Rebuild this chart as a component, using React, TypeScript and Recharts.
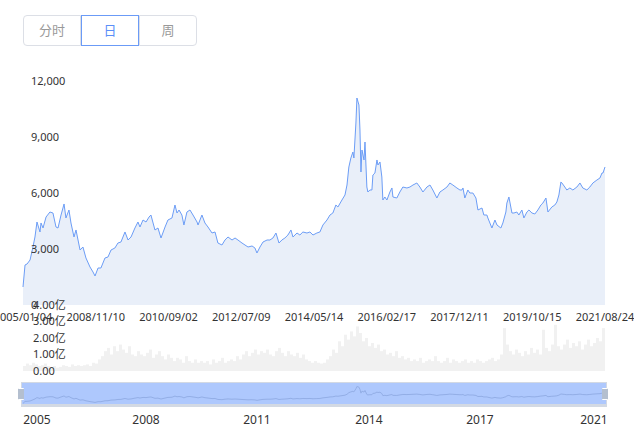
import React from "react";
import { Area, AreaChart, Bar, BarChart, Line, LineChart, XAxis, YAxis } from "recharts";

// trading-day index (0 = 2005/01/04, 4040 = 2021/08/24) and close
const closeSeries: [number, number][] = [
  [0, 964], [14, 2143], [28, 2196], [49, 2411], [69, 3107], [83, 3643], [97, 4446], [118, 3911],
  [125, 4393], [139, 4125], [160, 4714], [187, 4982], [208, 4928], [229, 4178], [243, 4125], [264, 4821],
  [285, 5411], [298, 4661], [319, 5089], [333, 4393], [354, 3643], [368, 4018], [396, 2946], [416, 3107],
  [437, 2518], [465, 2036], [486, 1768], [500, 1554], [521, 1982], [541, 1982], [569, 2518], [590, 2571],
  [611, 2946], [638, 3054], [659, 3321], [680, 3375], [708, 3911], [729, 3482], [750, 3643], [777, 4125],
  [798, 4446], [812, 4178], [833, 4553], [854, 4446], [875, 4714], [888, 4821], [916, 4018], [937, 4125],
  [958, 3589], [986, 4178], [1006, 4553], [1034, 4661], [1055, 5357], [1069, 4928], [1083, 5089], [1103, 4821],
  [1117, 4286], [1138, 4982], [1159, 5089], [1180, 4821], [1208, 4446], [1215, 4286], [1242, 4821], [1263, 4393],
  [1284, 4178], [1312, 3857], [1333, 3911], [1353, 3321], [1381, 3214], [1402, 3482], [1423, 3643], [1451, 3482],
  [1472, 3589], [1492, 3482], [1520, 3321], [1541, 3214], [1562, 3107], [1590, 3161], [1610, 3054], [1624, 2786],
  [1645, 3107], [1666, 3375], [1694, 3482], [1714, 3482], [1735, 3589], [1756, 3857], [1777, 3321], [1797, 3482],
  [1818, 3589], [1839, 3750], [1860, 4018], [1874, 3643], [1902, 3857], [1922, 3750], [1943, 3911], [1971, 3857],
  [1992, 3911], [2013, 3750], [2040, 3857], [2061, 3911], [2082, 4286], [2110, 4553], [2131, 4821], [2151, 4928],
  [2172, 5357], [2186, 5250], [2214, 5625], [2235, 5893], [2249, 6428], [2262, 7393], [2276, 7875], [2290, 8196],
  [2297, 7875], [2311, 9750], [2318, 11089], [2332, 10714], [2339, 9375], [2346, 7125], [2353, 8303], [2367, 7768],
  [2374, 8732], [2387, 6321], [2394, 6053], [2408, 6161], [2422, 6161], [2429, 6964], [2443, 7071], [2457, 7768],
  [2464, 7500], [2478, 7661], [2491, 6857], [2498, 5625], [2512, 5786], [2526, 5625], [2547, 6053], [2561, 6268],
  [2568, 5786], [2595, 5732], [2616, 6053], [2637, 6321], [2665, 6268], [2686, 6321], [2707, 6428], [2734, 6536],
  [2755, 6321], [2776, 6053], [2804, 6321], [2825, 6428], [2845, 6161], [2873, 5732], [2894, 6053], [2915, 6161],
  [2943, 6321], [2963, 6536], [2984, 6428], [3012, 6268], [3033, 6161], [3047, 6161], [3054, 6268], [3067, 5732],
  [3088, 6161], [3102, 6000], [3123, 6000], [3144, 5732], [3158, 5089], [3186, 5196], [3199, 4821], [3220, 4821],
  [3227, 4661], [3255, 4125], [3276, 4553], [3290, 4286], [3317, 4125], [3331, 4393], [3352, 4982], [3359, 5464],
  [3373, 5786], [3394, 4928], [3408, 4928], [3428, 4982], [3442, 4821], [3463, 5089], [3477, 4661], [3498, 4982],
  [3512, 5089], [3533, 4928], [3553, 4875], [3574, 5089], [3595, 5357], [3609, 5464], [3630, 5732], [3644, 4982],
  [3671, 5250], [3692, 5357], [3706, 5518], [3720, 5893], [3734, 6589], [3741, 6536], [3761, 6321], [3775, 6161],
  [3796, 6268], [3817, 6161], [3845, 6321], [3866, 6536], [3886, 6268], [3914, 6161], [3935, 6321], [3956, 6536],
  [3984, 6696], [4005, 6804], [4019, 7071], [4026, 7071], [4040, 7393],
];

// volume, in 亿
const volumes = [
  0.3, 0.45, 0.35, 0.5, 0.4, 0.3, 0.35, 0.45, 0.3, 0.25,
  0.3, 0.2, 0.25, 0.35, 0.3, 0.25, 0.4, 0.3, 0.35, 0.3,
  0.35, 0.4, 0.3, 0.5, 0.45, 0.7, 0.9, 1.2, 1.4, 1.0,
  1.5, 1.2, 1.6, 1.3, 1.1, 1.5, 1.0, 0.9, 1.2, 1.0,
  0.9, 1.1, 1.3, 0.8, 1.0, 1.2, 0.9, 0.7, 1.0, 0.8,
  0.6, 0.8, 0.7, 0.5, 0.9, 0.6, 0.5, 0.7, 0.5, 0.6,
  0.5, 0.6, 0.4, 0.7, 0.5, 0.6, 0.8, 0.5, 0.6, 0.7,
  0.6, 0.9, 0.7, 1.0, 1.2, 0.9, 1.1, 1.3, 1.0, 1.2,
  1.1, 1.3, 1.0, 0.9, 1.2, 1.4, 1.1, 0.9, 1.2, 1.0,
  0.9, 1.1, 0.8, 1.0, 0.7, 0.6, 0.5, 0.6, 0.5, 0.45,
  0.5, 0.7, 0.9, 1.3, 1.1, 1.8, 1.5, 2.2, 1.9, 2.4,
  2.1, 2.7, 2.3, 1.8, 2.0, 1.5, 1.7, 1.4, 1.6, 1.2,
  1.3, 1.0, 1.1, 0.9, 1.2, 0.8, 0.9, 0.7, 0.8, 0.6,
  0.7, 0.6, 0.8, 0.5, 0.6, 0.7, 0.6, 0.9, 0.6, 0.5,
  0.6, 0.8, 0.5, 0.7, 0.6, 0.5, 0.6, 0.7, 0.5, 0.6,
  0.5, 0.7, 0.6, 0.5, 0.6, 0.7, 0.8, 0.6, 0.7, 1.0,
  2.6, 1.6, 1.2, 1.0, 1.3, 1.1, 0.9, 1.2, 1.0, 1.4,
  1.1, 1.3, 1.0, 2.5, 1.4, 1.2, 1.6, 2.8, 1.5, 1.3,
  1.6, 1.9, 1.4, 1.7, 1.5, 1.8, 1.3, 1.6, 1.9, 1.5,
  1.7, 2.0, 1.8, 2.6,
];

const dateTickDays = [0, 505, 1010, 1515, 2020, 2525, 3030, 3535, 4040];
const dateTickLabels = [
  "2005/01/04", "2008/11/10", "2010/09/02", "2012/07/09", "2014/05/14",
  "2016/02/17", "2017/12/11", "2019/10/15", "2021/08/24",
];
const priceTicks = [0, 3000, 6000, 9000, 12000];
const volumeTicks = [0, 1, 2, 3, 4];
const yearTickDays = [97, 854, 1624, 2401, 3172, 3963];
const yearTickLabels = ["2005", "2008", "2011", "2014", "2017", "2021"];
const periods = ["分时", "日", "周"];

const priceData = closeSeries.map(([day, close]) => ({ day, close }));
const volumeData = volumes.map((v, i) => ({ i, v }));

const FONT = "'Noto Sans', 'Noto Sans CJK SC', sans-serif";
const TEXT = "#333";

const renderPriceTick = (props: any) => {
  const { y, payload } = props;
  return (
    <text x={31} y={y} dy="0.35em" textAnchor="start" fontSize={11} fill={TEXT}>
      {Number(payload.value).toLocaleString("en-US")}
    </text>
  );
};

const renderVolumeTick = (props: any) => {
  const { y, payload } = props;
  const v = Number(payload.value);
  return (
    <text x={33} y={y} dy="0.35em" textAnchor="start" fontSize={11} fill={TEXT}>
      {v === 0 ? "0.00" : v.toFixed(2) + "亿"}
    </text>
  );
};

export default function App() {
  return (
    <div
      style={{
        position: "absolute",
        left: 0,
        top: 0,
        width: 634,
        height: 431,
        background: "#fff",
        fontFamily: FONT,
        overflow: "hidden",
      }}
    >
      {periods.map((p, i) => {
        const active = i === 1;
        return (
          <div
            key={p}
            style={{
              position: "absolute",
              left: 23 + i * 58,
              top: 15,
              width: 58,
              height: 31,
              boxSizing: "border-box",
              border: `1px solid ${active ? "#6b9bf7" : "#dcdfe6"}`,
              borderRadius: i === 0 ? "4px 0 0 4px" : i === 2 ? "0 4px 4px 0" : 0,
              color: active ? "#5b8ff9" : "#999",
              fontSize: 13,
              lineHeight: "29px",
              textAlign: "center",
              zIndex: active ? 2 : 1,
              background: "#fff",
            }}
          >
            {p}
          </div>
        );
      })}

      <div style={{ position: "absolute", left: 0, top: 0 }}>
        <AreaChart width={634} height={330} data={priceData} margin={{ top: 81, right: 29, bottom: 5, left: 13 }}>
          <XAxis
            dataKey="day"
            type="number"
            domain={[0, 4040]}
            ticks={dateTickDays}
            interval={0}
            height={20}
            axisLine={false}
            tickLine={false}
            tick={{ fontSize: 11, fill: TEXT }}
            tickFormatter={(v: number) => dateTickLabels[dateTickDays.indexOf(v)] ?? ""}
          />
          <YAxis
            type="number"
            domain={[0, 12000]}
            ticks={priceTicks}
            interval={0}
            width={10}
            axisLine={false}
            tickLine={false}
            tick={renderPriceTick}
          />
          <Area
            type="linear"
            dataKey="close"
            stroke="#6c9df6"
            strokeWidth={1}
            fill="#e9eff9"
            fillOpacity={1}
            dot={false}
            activeDot={false}
            isAnimationActive={false}
          />
        </AreaChart>
      </div>

      <div style={{ position: "absolute", left: 0, top: 290 }}>
        <BarChart
          width={634}
          height={90}
          data={volumeData}
          margin={{ top: 15, right: 29, bottom: 9, left: 13 }}
          barCategoryGap={0}
          barGap={0}
        >
          <XAxis dataKey="i" hide />
          <YAxis
            type="number"
            domain={[0, 4]}
            ticks={volumeTicks}
            interval={0}
            width={10}
            axisLine={false}
            tickLine={false}
            tick={renderVolumeTick}
          />
          <Bar dataKey="v" fill="#f1f1f1" isAnimationActive={false} />
        </BarChart>
      </div>

      <div
        style={{
          position: "absolute",
          left: 21,
          top: 382,
          width: 586,
          height: 25,
          boxSizing: "border-box",
          background: "#aec8fd",
          borderTop: "1px solid #d3d9e3",
          borderBottom: "3px solid #d3d9e3",
          borderLeft: "1px solid #d3d9e3",
          borderRight: "1px solid #d3d9e3",
        }}
      />
      <div style={{ position: "absolute", left: 0, top: 378 }}>
        <LineChart width={634} height={53} data={priceData} margin={{ top: 7, right: 29, bottom: 2, left: 23 }}>
          <XAxis
            dataKey="day"
            type="number"
            domain={[0, 4040]}
            ticks={yearTickDays}
            interval={0}
            height={24}
            axisLine={false}
            tickLine={false}
            tickMargin={4}
            tick={{ fontSize: 12, fill: TEXT }}
            tickFormatter={(v: number) => yearTickLabels[yearTickDays.indexOf(v)] ?? ""}
          />
          <YAxis type="number" domain={[0, 12000]} hide />
          <Line
            type="linear"
            dataKey="close"
            stroke="#93aee6"
            strokeWidth={1}
            dot={false}
            activeDot={false}
            isAnimationActive={false}
          />
        </LineChart>
      </div>
      {[18, 602].map((x) => (
        <div
          key={x}
          style={{
            position: "absolute",
            left: x,
            top: 388,
            width: 6,
            height: 12,
            background: "#b4bfcf",
            borderRadius: 1,
            boxShadow: "inset 0 3px 0 -2px #fff, inset 0 -3px 0 -2px #fff",
          }}
        />
      ))}
    </div>
  );
}
